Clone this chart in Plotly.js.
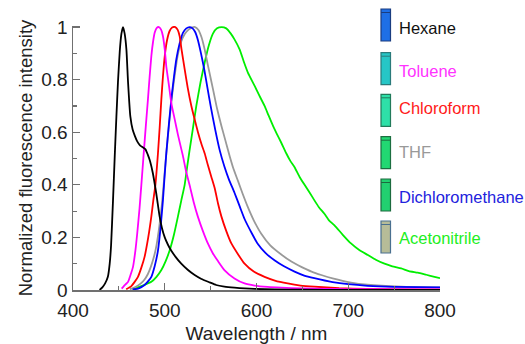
<!DOCTYPE html>
<html>
<head>
<meta charset="utf-8">
<script src="https://cdn.plot.ly/plotly-3.0.1.min.js"></script>
<style>html,body{margin:0;padding:0;background:#fff;}#chart{width:525px;height:344px;}</style>
</head>
<body>
<div id="chart"></div>
<script>
// ---- data ----
const solvents = ["Hexane", "Toluene", "Chloroform", "THF", "Dichloromethane", "Acetonitrile"];
const lineColors = ["#000000", "#ff00ff", "#ff0000", "#999999", "#0000ff", "#00ee00"];
const textColors = ["#111111", "#ff33ff", "#ff1a1a", "#999999", "#2222dd", "#22ee22"];
const vialFill = ["#1e6fe6", "#26c6c6", "#2ee0a8", "#22d872", "#22d070", "#b6bc98"];
const vialEdge = ["#1a3d80", "#2a7a7a", "#227a5a", "#1c6e40", "#1c6a3e", "#4a7090"];

const hexaneX = [429,432,435,438,440,441.5,443.6,445.5,447.3,449,451,452.8,454.5,456.3,458.2,460,462.5,465,467.5,470,473,476,479,481.5,484,487,490.8,494.4,497,500,503.5,507,512,518,525,532.6,540,549,556,565,576,587,598,620,650,700,800];
const hexaneY = [0,0.01,0.025,0.05,0.10,0.17,0.34,0.51,0.66,0.79,0.91,0.975,1.0,0.975,0.915,0.79,0.66,0.61,0.585,0.565,0.55,0.543,0.535,0.515,0.49,0.445,0.366,0.28,0.235,0.20,0.172,0.15,0.125,0.10,0.077,0.057,0.042,0.029,0.019,0.013,0.009,0.006,0.004,0.002,0.001,0,0];

const tolueneX = [453,455,457.5,460,462.5,465.4,468,470,472.5,474.5,477.3,479.5,481.7,483.5,485.4,487.3,489,491.3,493.7,496,498,500,501.7,504.5,507.2,510.8,514.4,519.8,523,527,531.5,536,541.5,547,552.5,558,565,576,587,598,612,627,650,680,720,800];
const tolueneY = [0.005,0.013,0.022,0.031,0.055,0.088,0.15,0.215,0.31,0.40,0.53,0.63,0.726,0.81,0.89,0.945,0.978,0.997,1.0,0.99,0.966,0.915,0.85,0.78,0.71,0.65,0.59,0.51,0.455,0.40,0.335,0.28,0.225,0.177,0.139,0.11,0.076,0.044,0.025,0.017,0.012,0.009,0.006,0.004,0.003,0.002];

const chloroformX = [458,463.6,467,470.8,474.5,478,482,485.4,487.5,489.8,492.6,494.5,496.3,498,500,502.5,505.3,508,511.5,514,516.2,518.5,521.7,525,529,532.5,536.2,540,543.5,547,550.8,554.6,558,561.7,567,572.6,580,587,597,608.8,620,634,648,663,690,720,760,800];
const chloroformY = [0.003,0.015,0.03,0.05,0.085,0.126,0.2,0.28,0.34,0.40,0.52,0.62,0.726,0.81,0.89,0.95,0.985,0.998,1.0,0.99,0.966,0.91,0.84,0.77,0.70,0.65,0.60,0.555,0.52,0.475,0.43,0.385,0.33,0.28,0.225,0.177,0.135,0.10,0.07,0.05,0.036,0.025,0.017,0.0125,0.007,0.004,0.002,0.001];

const thfX = [462,466,470,474,478,481.5,485,488.5,491,494,497,500,502,505,508,511,514,518,522,526,529.5,533,536.5,540,543.5,547,552.5,557,561.7,566,570.7,575,579.8,585,590.6,597,605,615,627,638,648.8,660,670.6,683,703,721,758,800];
const thfY = [0.003,0.008,0.015,0.025,0.04,0.06,0.09,0.13,0.17,0.24,0.33,0.45,0.53,0.64,0.74,0.82,0.89,0.945,0.975,0.99,0.998,1.0,0.99,0.962,0.915,0.855,0.765,0.69,0.625,0.57,0.51,0.46,0.415,0.365,0.315,0.265,0.215,0.17,0.135,0.108,0.088,0.07,0.057,0.044,0.028,0.02,0.013,0.01];

const dcmX = [465,470.8,474.5,478,481.5,485.4,489,492.6,495.5,498,500,501.7,504.5,507.2,510,512.6,516,519.8,523.5,527,530,533,536.2,539.5,543,546.5,550,555,560,565,570,576,582,587,595,601.5,610,620,630,641.5,652,663,683,700,721,750,800];
const dcmY = [0.002,0.005,0.011,0.019,0.032,0.05,0.09,0.15,0.24,0.34,0.44,0.52,0.63,0.726,0.81,0.877,0.935,0.978,0.995,1.0,0.996,0.982,0.95,0.9,0.84,0.77,0.70,0.61,0.53,0.47,0.42,0.37,0.315,0.27,0.215,0.175,0.14,0.112,0.09,0.07,0.055,0.045,0.03,0.022,0.016,0.012,0.01];

const acnX = [465,470.8,478,485.4,491,496.3,501,505.3,510,514.4,518,521.7,524.5,527,530.5,534.4,539,543.5,548,552.5,557,562,567,572,576,581.6,586,590.6,598,603,608.8,613,617.9,622,627,632.4,637,641.5,647,652.4,658,663.3,668,674,679,685,694,703,712,721.4,730,739.5,748,757.7,766,775.8,785,794,800];
const acnY = [0.002,0.01,0.02,0.031,0.05,0.076,0.11,0.15,0.21,0.28,0.34,0.40,0.47,0.53,0.61,0.70,0.79,0.865,0.93,0.975,0.995,1.0,0.995,0.975,0.953,0.915,0.87,0.827,0.776,0.74,0.70,0.665,0.625,0.595,0.56,0.52,0.49,0.467,0.43,0.40,0.37,0.34,0.315,0.29,0.265,0.246,0.21,0.177,0.152,0.133,0.115,0.10,0.09,0.082,0.072,0.066,0.058,0.05,0.045];

const seriesX = [hexaneX, tolueneX, chloroformX, thfX, dcmX, acnX];
const seriesY = [hexaneY, tolueneY, chloroformY, thfY, dcmY, acnY];
const drawOrder = [5, 3, 4, 2, 1, 0];

const xTickVals = [400, 500, 600, 700, 800];
const yTickVals = [0, 0.2, 0.4, 0.6, 0.8, 1];
const yTickText = ["0", "0.2", "0.4", "0.6", "0.8", "1"];

// ---- layout geometry (pixels) ----
const W = 525, H = 344;
const M = {l: 73, r: 85, t: 26, b: 54};
const pw = W - M.l - M.r, ph = H - M.t - M.b;
const px2paperX = p => (p - M.l) / pw;
const px2paperY = p => (H - M.b - p) / ph;

const legendTextY = [28, 71, 108, 152, 197, 238];
const vialTop = [9, 52.7, 94.3, 136.7, 179, 221];
const vialH = 32, vialL = 381, vialR = 390.5, textX = 397;

const traces = drawOrder.map(i => ({
  type: "scatter", mode: "lines",
  x: seriesX[i], y: seriesY[i], name: solvents[i],
  line: {color: lineColors[i], width: 1.8, shape: "spline", smoothing: 0.5},
  hoverinfo: "skip"
}));

const shapes = [];
const annotations = [];
solvents.forEach((s, i) => {
  shapes.push({type: "rect", xref: "paper", yref: "paper",
    x0: px2paperX(vialL), x1: px2paperX(vialR),
    y0: px2paperY(vialTop[i] + vialH), y1: px2paperY(vialTop[i]),
    fillcolor: vialFill[i], line: {color: vialEdge[i], width: 1.2}, layer: "above"});
  shapes.push({type: "line", xref: "paper", yref: "paper",
    x0: px2paperX(vialL), x1: px2paperX(vialR),
    y0: px2paperY(vialTop[i] + 3.5), y1: px2paperY(vialTop[i] + 3.5),
    line: {color: vialEdge[i], width: 1}, layer: "above"});
  annotations.push({xref: "paper", yref: "paper", x: px2paperX(textX), y: px2paperY(legendTextY[i]),
    xanchor: "left", yanchor: "middle", showarrow: false, text: s,
    font: {family: "Liberation Sans, Arial, sans-serif", size: 16.5, color: textColors[i]}});
});

const axisCommon = {
  showline: true, linecolor: "#707070", linewidth: 1.5,
  ticks: "inside", ticklen: 7, tickwidth: 1.3, tickcolor: "#707070",
  showgrid: false, zeroline: false,
  tickfont: {family: "Liberation Sans, Arial, sans-serif", size: 19, color: "#222"}
};

const layout = {
  width: W, height: H, margin: M,
  paper_bgcolor: "#fff", plot_bgcolor: "#fff", showlegend: false,
  font: {family: "Liberation Sans, Arial, sans-serif", color: "#222"},
  xaxis: Object.assign({}, axisCommon, {
    range: [400, 800], tickvals: xTickVals, ticktext: xTickVals.map(String),
    ticklabelstandoff: 3,
    minor: {ticks: "inside", ticklen: 4, dtick: 50, tick0: 400, tickcolor: "#707070", tickwidth: 1.2},
    title: {text: "Wavelength / nm", font: {size: 19, color: "#222"}, standoff: 8}
  }),
  yaxis: Object.assign({}, axisCommon, {
    range: [0, 1.004], tickvals: yTickVals, ticktext: yTickText,
    minor: {ticks: "inside", ticklen: 4, dtick: 0.1, tick0: 0, tickcolor: "#707070", tickwidth: 1.2},
    title: {text: "Normalized fluorescence intensity", font: {size: 18.5, color: "#222"}, standoff: 4}
  }),
  shapes: shapes, annotations: annotations
};

Plotly.newPlot("chart", traces, layout, {staticPlot: true, displayModeBar: false});
</script>
</body>
</html>
